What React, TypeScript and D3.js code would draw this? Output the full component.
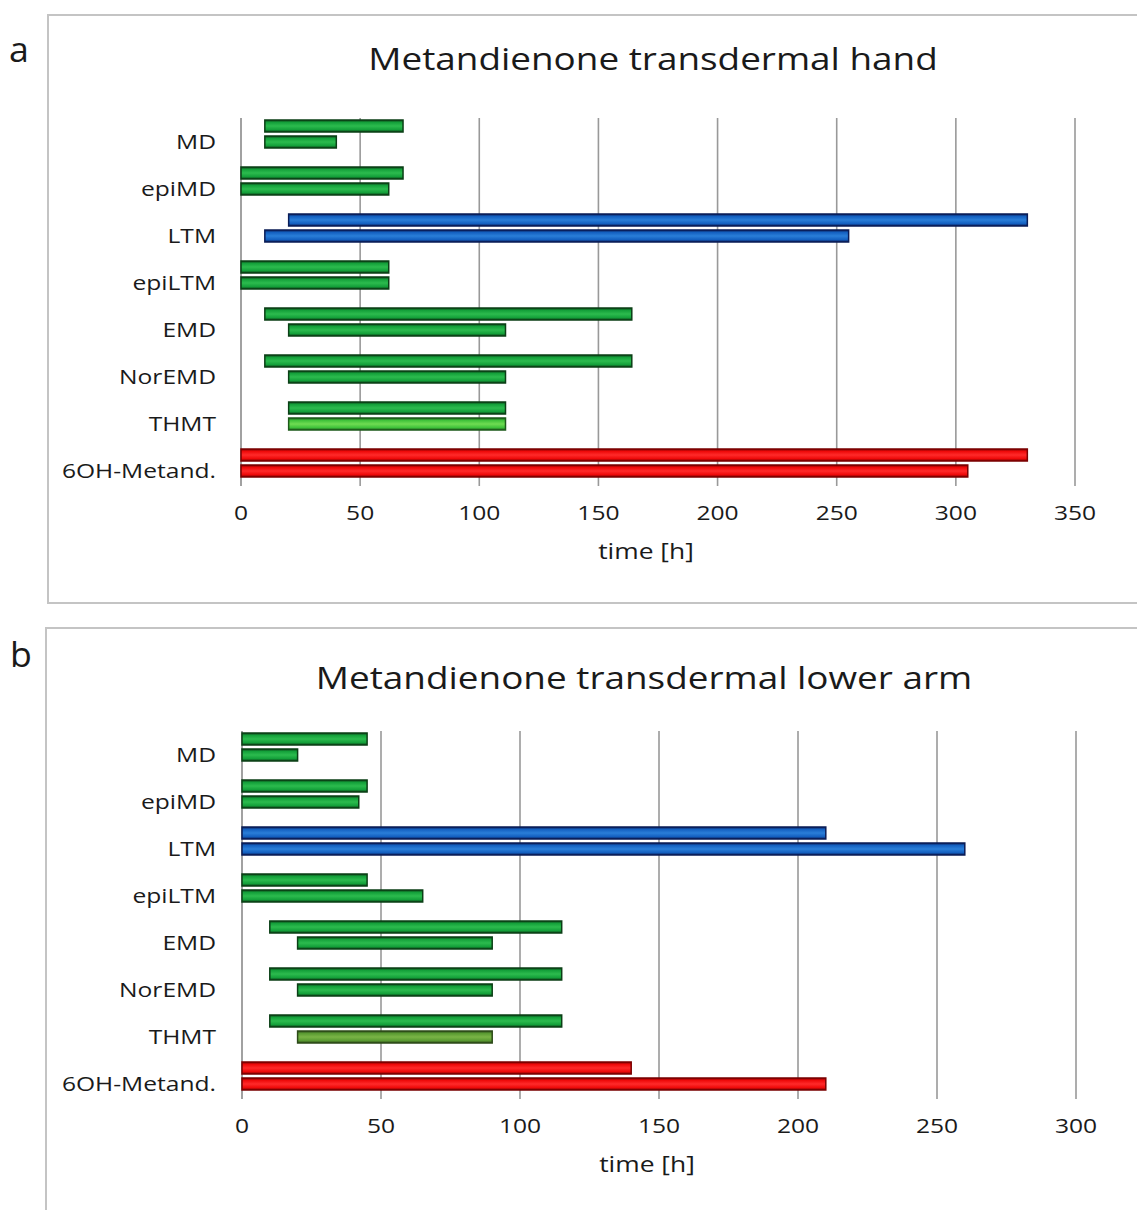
import React from "react";
import * as d3 from "d3";

const categories = ["MD", "epiMD", "LTM", "epiLTM", "EMD", "NorEMD", "THMT", "6OH-Metand."];
const barColors = ["green", "green", "blue", "green", "green", "green", "green", "red"];

// Panel a: transdermal hand (hours)
const handUpperStart = [10, 0, 20, 0, 10, 10, 20, 0];
const handUpperEnd = [68, 68, 330, 62, 164, 164, 111, 330];
const handLowerStart = [10, 0, 10, 0, 20, 20, 20, 0];
const handLowerEnd = [40, 62, 255, 62, 111, 111, 111, 305];
const handLowerColors = ["green", "green", "blue", "green", "green", "green", "lightgreen", "red"];
const handTicks = [0, 50, 100, 150, 200, 250, 300, 350];

// Panel b: transdermal lower arm (hours)
const armUpperStart = [0, 0, 0, 0, 10, 10, 10, 0];
const armUpperEnd = [45, 45, 210, 45, 115, 115, 115, 140];
const armLowerStart = [0, 0, 0, 0, 20, 20, 20, 0];
const armLowerEnd = [20, 42, 260, 65, 90, 90, 90, 210];
const armLowerColors = ["green", "green", "blue", "green", "green", "green", "olive", "red"];
const armTicks = [0, 50, 100, 150, 200, 250, 300];

const palette: Record<string, { edge: string; base: string; light: string }> = {
  green: { edge: "#0b3f16", base: "#14a03a", light: "#2cbb4e" },
  lightgreen: { edge: "#1d5a1a", base: "#3fc23a", light: "#6fdc52" },
  olive: { edge: "#2c4a18", base: "#5a9a32", light: "#7ab446" },
  blue: { edge: "#0a1c56", base: "#1460c0", light: "#2a7ed8" },
  red: { edge: "#7a0000", base: "#ee0a0a", light: "#ff2a2a" },
};

const FONT = "'Open Sans', sans-serif";

function SText(props: {
  x: number;
  y: number;
  anchor?: "start" | "middle" | "end";
  size: number;
  sx?: number;
  children: React.ReactNode;
}) {
  const sx = props.sx ?? 1.2;
  return (
    <text
      transform={`translate(${props.x},${props.y}) scale(${sx},1)`}
      textAnchor={props.anchor ?? "start"}
      fontFamily={FONT}
      fontSize={props.size}
      fill="#1a1a1a"
    >
      {props.children}
    </text>
  );
}

type PanelProps = {
  letter: string;
  title: string;
  frame: { x: number; y: number; w: number; h: number };
  letterPos: { x: number; y: number };
  titleY: number;
  titleX: number;
  x0: number;
  x1: number;
  maxV: number;
  ticks: number[];
  bandTop: number;
  upperStart: number[];
  upperEnd: number[];
  lowerStart: number[];
  lowerEnd: number[];
  lowerColors: string[];
};

function Panel(p: PanelProps) {
  const step = 47;
  const x = d3.scaleLinear().domain([0, p.maxV]).range([p.x0, p.x1]);
  const y = d3
    .scaleBand<string>()
    .domain(categories)
    .range([p.bandTop, p.bandTop + step * categories.length])
    .paddingInner(0)
    .paddingOuter(0);
  const barH = 12;
  const gridTop = p.bandTop;
  const gridBottom = p.bandTop + step * categories.length - 8;
  const tickY = gridBottom + 27;
  return (
    <g>
      <rect x={p.frame.x} y={p.frame.y} width={p.frame.w} height={p.frame.h} fill="#fff" stroke="#c4c4c4" strokeWidth={2} />
      <SText x={p.letterPos.x} y={p.letterPos.y} size={34} sx={1.05}>
        {p.letter}
      </SText>
      <SText x={p.titleX} y={p.titleY} anchor="middle" size={31} sx={1.19}>
        {p.title}
      </SText>
      {p.ticks.map((t) => (
        <line key={"g" + t} x1={x(t)} x2={x(t)} y1={gridTop} y2={gridBottom} stroke={t === 0 ? "#8a8a8a" : "#999"} strokeWidth={1.6} />
      ))}
      {categories.map((c, i) => {
        const b = y(c)!;
        const uc = palette[barColors[i]];
        return (
          <g key={c}>
            <SText x={216} y={b + 31} anchor="end" size={20.5} sx={1.2}>
              {c}
            </SText>
            <rect
              x={x(p.upperStart[i])}
              y={b + 2}
              width={x(p.upperEnd[i]) - x(p.upperStart[i])}
              height={barH}
              fill={`url(#grad-${barColors[i]})`}
              stroke={uc.edge}
              strokeWidth={1.5}
            />
            <rect
              x={x(p.lowerStart[i])}
              y={b + 18}
              width={x(p.lowerEnd[i]) - x(p.lowerStart[i])}
              height={barH}
              fill={`url(#grad-${p.lowerColors[i]})`}
              stroke={palette[p.lowerColors[i]].edge}
              strokeWidth={1.5}
            />
          </g>
        );
      })}
      {p.ticks.map((t) => (
        <SText key={"t" + t} x={x(t)} y={tickY + 7} anchor="middle" size={20.5} sx={1.2}>
          {t}
        </SText>
      ))}
      <SText x={(p.x0 + p.x1) / 2 - 12} y={tickY + 46} anchor="middle" size={22} sx={1.2}>
        time [h]
      </SText>
    </g>
  );
}

export default function App() {
  return (
    <svg width={1137} height={1210} style={{ position: "absolute", left: 0, top: 0, background: "#fff" }}>
      <defs>
        {Object.entries(palette).map(([k, v]) => (
          <linearGradient key={k} id={`grad-${k}`} x1="0" y1="0" x2="0" y2="1">
            <stop offset="0" stopColor={v.edge} />
            <stop offset="0.2" stopColor={v.base} />
            <stop offset="0.5" stopColor={v.light} />
            <stop offset="0.8" stopColor={v.base} />
            <stop offset="1" stopColor={v.edge} />
          </linearGradient>
        ))}
      </defs>
      <Panel
        letter="a"
        title="Metandienone transdermal hand"
        frame={{ x: 48, y: 15, w: 1110, h: 588 }}
        letterPos={{ x: 9, y: 62 }}
        titleX={653}
        titleY={70}
        x0={241}
        x1={1075}
        maxV={350}
        ticks={handTicks}
        bandTop={118}
        upperStart={handUpperStart}
        upperEnd={handUpperEnd}
        lowerStart={handLowerStart}
        lowerEnd={handLowerEnd}
        lowerColors={handLowerColors}
      />
      <Panel
        letter="b"
        title="Metandienone transdermal lower arm"
        frame={{ x: 46, y: 628, w: 1110, h: 600 }}
        letterPos={{ x: 10, y: 667 }}
        titleX={644}
        titleY={689}
        x0={242}
        x1={1076}
        maxV={300}
        ticks={armTicks}
        bandTop={731}
        upperStart={armUpperStart}
        upperEnd={armUpperEnd}
        lowerStart={armLowerStart}
        lowerEnd={armLowerEnd}
        lowerColors={armLowerColors}
      />
    </svg>
  );
}
